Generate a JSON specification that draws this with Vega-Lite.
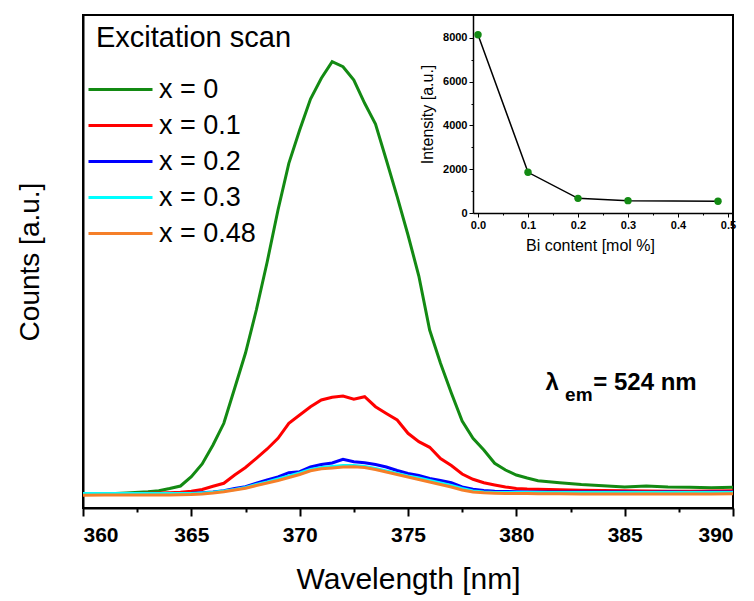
{
  "$schema": "https://vega.github.io/schema/vega-lite/v6.json",
  "width": 650,
  "height": 493,
  "autosize": {"type": "none"},
  "padding": {"left": 83, "top": 15, "right": 21, "bottom": 93},
  "config": {
    "font": "Liberation Sans",
    "view": {"stroke": "#000", "strokeWidth": 2},
    "axis": {"grid": false, "domainColor": "#000", "tickColor": "#000", "labelColor": "#000", "titleColor": "#000"},
    "legend": {"labelColor": "#000", "titleColor": "#000"}
  },
  "resolve": {"scale": {"x": "independent", "y": "independent"}, "axis": {"x": "independent", "y": "independent"}},
  "layer": [
    {
      "layer": [
        {
          "data": {"values": [
            {"w":360,"g":280,"r":280,"b":270,"c":290,"o":254},
            {"w":361,"g":280,"r":280,"b":276,"c":290,"o":258},
            {"w":362,"g":300,"r":286,"b":280,"c":290,"o":260},
            {"w":363,"g":326,"r":294,"b":280,"c":290,"o":260},
            {"w":363.5,"g":346,"r":300,"b":280,"c":290,"o":260},
            {"w":364,"g":390,"r":306,"b":282,"c":290,"o":262},
            {"w":364.5,"g":440,"r":314,"b":288,"c":290,"o":266},
            {"w":365,"g":626,"r":334,"b":294,"c":290,"o":270},
            {"w":365.5,"g":880,"r":370,"b":306,"c":300,"o":280},
            {"w":366,"g":1260,"r":434,"b":320,"c":314,"o":300},
            {"w":366.5,"g":1694,"r":494,"b":346,"c":340,"o":326},
            {"w":367,"g":2394,"r":660,"b":390,"c":370,"o":360},
            {"w":367.5,"g":3100,"r":810,"b":426,"c":410,"o":394},
            {"w":368,"g":3960,"r":994,"b":494,"c":470,"o":450},
            {"w":368.5,"g":4920,"r":1180,"b":560,"c":520,"o":500},
            {"w":369,"g":5960,"r":1394,"b":620,"c":580,"o":550},
            {"w":369.5,"g":6894,"r":1694,"b":706,"c":640,"o":610},
            {"w":370,"g":7560,"r":1860,"b":726,"c":700,"o":670},
            {"w":370.5,"g":8180,"r":2026,"b":820,"c":770,"o":744},
            {"w":371,"g":8594,"r":2160,"b":870,"c":810,"o":784},
            {"w":371.5,"g":8926,"r":2214,"b":900,"c":830,"o":800},
            {"w":372,"g":8826,"r":2240,"b":974,"c":850,"o":820},
            {"w":372.5,"g":8560,"r":2174,"b":926,"c":850,"o":826},
            {"w":373,"g":8094,"r":2226,"b":906,"c":830,"o":810},
            {"w":373.5,"g":7680,"r":2026,"b":870,"c":790,"o":770},
            {"w":374,"g":6960,"r":1890,"b":820,"c":740,"o":720},
            {"w":374.5,"g":6226,"r":1760,"b":750,"c":690,"o":670},
            {"w":375,"g":5460,"r":1494,"b":690,"c":640,"o":620},
            {"w":375.5,"g":4640,"r":1326,"b":650,"c":600,"o":570},
            {"w":376,"g":3560,"r":1214,"b":590,"c":550,"o":520},
            {"w":376.5,"g":2894,"r":990,"b":550,"c":500,"o":470},
            {"w":377,"g":2300,"r":850,"b":504,"c":450,"o":420},
            {"w":377.5,"g":1740,"r":680,"b":420,"c":390,"o":360},
            {"w":378,"g":1394,"r":574,"b":374,"c":340,"o":320},
            {"w":378.5,"g":1160,"r":504,"b":350,"c":320,"o":304},
            {"w":379,"g":894,"r":460,"b":336,"c":312,"o":296},
            {"w":379.5,"g":760,"r":420,"b":330,"c":310,"o":292},
            {"w":380,"g":660,"r":392,"b":326,"c":310,"o":290},
            {"w":380.5,"g":600,"r":380,"b":322,"c":310,"o":288},
            {"w":381,"g":546,"r":374,"b":320,"c":310,"o":286},
            {"w":382,"g":506,"r":364,"b":320,"c":310,"o":284},
            {"w":383,"g":470,"r":356,"b":318,"c":308,"o":282},
            {"w":384,"g":446,"r":350,"b":320,"c":310,"o":282},
            {"w":385,"g":420,"r":344,"b":318,"c":310,"o":280},
            {"w":386,"g":440,"r":340,"b":316,"c":308,"o":280},
            {"w":387,"g":420,"r":336,"b":318,"c":310,"o":280},
            {"w":388,"g":414,"r":336,"b":316,"c":310,"o":282},
            {"w":389,"g":406,"r":340,"b":318,"c":310,"o":282},
            {"w":390,"g":414,"r":346,"b":318,"c":312,"o":284}
          ]},
          "transform": [{"fold": ["g", "r", "b", "c", "o"], "as": ["k", "v"]}],
          "mark": {"type": "line", "strokeWidth": 3},
          "encoding": {
            "x": {
              "field": "w", "type": "quantitative",
              "scale": {"domain": [360, 390], "nice": false, "zero": false},
              "axis": {
                "orient": "bottom",
                "values": [360, 362.5, 365, 367.5, 370, 372.5, 375, 377.5, 380, 382.5, 385, 387.5, 390],
                "format": "d",
                "labelExpr": "datum.value % 5 === 0 ? datum.label : ''",
                "tickSize": {"condition": {"test": "datum.value % 5 === 0", "value": 8}, "value": 4},
                "tickWidth": 2, "domainWidth": 2,
                "labelFontSize": 21, "labelFontWeight": "bold", "labelPadding": 8,
                "title": "Wavelength [nm]", "titleFontSize": 30, "titleFontWeight": "normal", "titlePadding": 19
              }
            },
            "y": {
              "field": "v", "type": "quantitative",
              "scale": {"domain": [0, 9860], "nice": false},
              "axis": {"labels": false, "ticks": false, "domainWidth": 2, "title": "Counts [a.u.]", "titleFontSize": 28, "titleFontWeight": "normal", "titlePadding": 39}
            },
            "color": {
              "field": "k", "type": "nominal",
              "scale": {"domain": ["g", "r", "b", "c", "o"], "range": ["#138a13", "#ff0000", "#0000ff", "#00ffff", "#f57f29"]},
              "legend": {
                "title": null, "orient": "none", "legendX": 0, "legendY": 61, "padding": 0,
                "symbolType": "M-1,0H7", "symbolSize": 256, "symbolStrokeWidth": 3,
                "labelFontSize": 27, "labelLimit": 300,
                "labelOffset": 49, "rowPadding": 8,
                "labelExpr": "{'g': 'x = 0', 'r': 'x = 0.1', 'b': 'x = 0.2', 'c': 'x = 0.3', 'o': 'x = 0.48'}[datum.value]"
              }
            }
          }
        },
        {
          "data": {"values": [{"w": 360.6, "v": 9220, "t": "Excitation scan"}]},
          "mark": {"type": "text", "fontSize": 29, "align": "left", "baseline": "alphabetic", "color": "#000"},
          "encoding": {"x": {"field": "w", "type": "quantitative"}, "y": {"field": "v", "type": "quantitative"}, "text": {"field": "t"}}
        },
        {
          "data": {"values": [{"w": 381.35, "v": 2360, "t": "λ"}, {"w": 383.55, "v": 2360, "t": "= 524 nm"}]},
          "mark": {"type": "text", "fontSize": 24, "fontWeight": "bold", "align": "left", "baseline": "alphabetic", "color": "#000"},
          "encoding": {"x": {"field": "w", "type": "quantitative"}, "y": {"field": "v", "type": "quantitative"}, "text": {"field": "t"}}
        },
        {
          "data": {"values": [{"w": 382.25, "v": 2140, "t": "em"}]},
          "mark": {"type": "text", "fontSize": 19, "fontWeight": "bold", "align": "left", "baseline": "alphabetic", "color": "#000"},
          "encoding": {"x": {"field": "w", "type": "quantitative"}, "y": {"field": "v", "type": "quantitative"}, "text": {"field": "t"}}
        }
      ]
    },
    {
      "data": {"values": [
        {"bi": 0, "I": 8150},
        {"bi": 0.1, "I": 1860},
        {"bi": 0.2, "I": 670},
        {"bi": 0.3, "I": 565},
        {"bi": 0.48, "I": 535}
      ]},
      "encoding": {
        "x": {
          "field": "bi", "type": "quantitative",
          "scale": {"domain": [-0.01, 0.51], "range": [390, 650], "nice": false, "zero": false},
          "axis": {
            "orient": "bottom", "offset": -295,
            "values": [0, 0.05, 0.1, 0.15, 0.2, 0.25, 0.3, 0.35, 0.4, 0.45, 0.5],
            "labelExpr": "round(datum.value * 100) % 10 === 0 ? format(datum.value, '.1f') : ''",
            "tickSize": {"condition": {"test": "round(datum.value * 100) % 10 === 0", "value": 4}, "value": 2},
            "domainWidth": 1.5, "tickWidth": 1,
            "labelFontSize": 11, "labelFontWeight": "bold", "labelPadding": 2,
            "title": "Bi content [mol %]", "titleFontSize": 16, "titleFontWeight": "normal", "titlePadding": 7,
            "titleX": 507
          }
        },
        "y": {
          "field": "I", "type": "quantitative",
          "scale": {"domain": [0, 9050], "range": [198, 0], "nice": false},
          "axis": {
            "orient": "left", "offset": -390,
            "values": [0, 1000, 2000, 3000, 4000, 5000, 6000, 7000, 8000],
            "labelExpr": "datum.value % 2000 === 0 ? datum.value : ''",
            "tickSize": {"condition": {"test": "datum.value % 2000 === 0", "value": 4}, "value": 2},
            "domainWidth": 1.5, "tickWidth": 1,
            "labelFontSize": 11, "labelFontWeight": "bold", "labelPadding": 2,
            "title": "Intensity [a.u.]", "titleFontSize": 16, "titleFontWeight": "normal", "titlePadding": 7
          }
        }
      },
      "layer": [
        {"mark": {"type": "line", "color": "#000", "strokeWidth": 1.5}},
        {"mark": {"type": "point", "filled": true, "shape": "circle", "size": 55, "color": "#138a13", "opacity": 1}}
      ]
    }
  ]
}
